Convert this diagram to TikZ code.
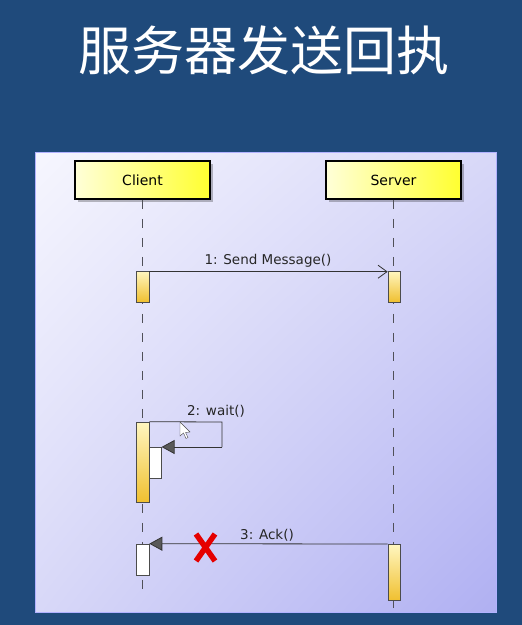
\documentclass[tikz,border=0pt]{standalone}
\usepackage{fontspec}
\setmainfont{DejaVu Sans}
\newfontfamily\cjk{Noto Sans CJK SC}
\usetikzlibrary{arrows.meta,shadows,shadings}
\definecolor{bgblue}{HTML}{1F4A7B}
\definecolor{panelA}{HTML}{F6F6FE}
\definecolor{panelB}{HTML}{D8D8F8}
\definecolor{panelC}{HTML}{B0B0F2}
\definecolor{boxY}{HTML}{FFFF30}
\definecolor{boxL}{HTML}{FFFFD8}
\definecolor{actL}{HTML}{FFF6C0}
\definecolor{actD}{HTML}{F0C030}
\definecolor{life}{HTML}{505058}
\tikzset{
  actor/.style={draw=black, line width=1.6pt, left color=boxL, right color=boxY,
    minimum width=135pt, minimum height=38pt, inner sep=0pt,
    drop shadow={shadow xshift=3pt, shadow yshift=-3pt, opacity=0.25, fill=black},
    font=\fontsize{14}{16}\selectfont},
  lifeline/.style={draw=life, line width=1.3pt, dash pattern=on 9pt off 10pt},
  actbar/.style={draw=black!70, line width=0.6pt, top color=actL, bottom color=actD},
  actwhite/.style={draw=black!70, line width=0.6pt, fill=white},
  msg/.style={draw=black!80, line width=0.8pt},
  lbl/.style={font=\fontsize{13.5}{16}\selectfont, text=black!85, inner sep=1pt},
  filltip/.style={-{Triangle[length=13pt,width=14pt,fill=black!65]}},
  opentip/.style={-{Straight Barb[length=9pt,width=13pt]}}
}
\begin{document}
\begin{tikzpicture}[x=1pt,y=-1pt]
\useasboundingbox (0,0) rectangle (522,625);
\fill[bgblue] (0,0) rectangle (522,625);
% title
\node[text=white, font=\cjk\fontsize{53}{56}\selectfont] (title) at (264,50) {服务器发送回执};
% panel
\shade[upper left=panelA, upper right=panelB, lower left=panelB, lower right=panelC]
  (35,152) rectangle (496,612);
\draw[white!70!blue, line width=0.6pt] (35,152) rectangle (496,612);
% actors
\node[actor] (client) at (142.5,180) {Client};
\node[actor] (server) at (393.5,180) {Server};
% lifelines
\coordinate (cend) at (142.5,590);
\coordinate (send) at (393.5,612);
\draw[lifeline] (client.south) -- (cend);
\draw[lifeline] (server.south) -- (send);
% activations message 1
\node[actbar, minimum width=13pt, minimum height=31pt, inner sep=0pt] (ca1) at (142.5,286.5) {};
\node[actbar, minimum width=12pt, minimum height=31pt, inner sep=0pt] (sa1) at (394,286.5) {};
\draw[msg, opentip] (ca1.north east) ++(0,1) coordinate (m1s) -- (m1s -| sa1.west);
\node[lbl] (l1) at (268,261) {1: Send Message()};
% activation 2 (self message)
\node[actbar, minimum width=13pt, minimum height=80pt, inner sep=0pt] (ca2) at (142.5,462) {};
\node[actwhite, minimum width=12pt, minimum height=31pt, inner sep=0pt, anchor=north west] (cw2) at (149,447) {};
\coordinate (s1) at (222,422);
\coordinate (s2) at (222,447);
\draw[msg] (ca2.north east) -- (s1) -- (s2);
\draw[msg, filltip] (s2) -- (cw2.north east);
\node[lbl] (l2) at (216,411) {2: wait()};
% mouse cursor
\draw[fill=white, draw=black!70, line width=0.4pt] (180,422) -- (180,436) -- (183.5,433) -- (186,438.5) -- (188,437.5) -- (185.5,432.5) -- (190,432) -- cycle;
% message 3
\node[actwhite, minimum width=13pt, minimum height=31pt, inner sep=0pt] (ca3) at (142.5,559.5) {};
\node[actbar, minimum width=12pt, minimum height=56pt, inner sep=0pt, anchor=north] (sa3) at (394,544) {};
\draw[msg, filltip] (sa3.north west) -- (ca3.north east);
\node[lbl] (l3) at (267,535) {3: Ack()};
% red cross
\draw[red!90!black, line width=5.5pt] (196,534) -- (215,561) (215,534) -- (196,561);
\end{tikzpicture}
\end{document}
